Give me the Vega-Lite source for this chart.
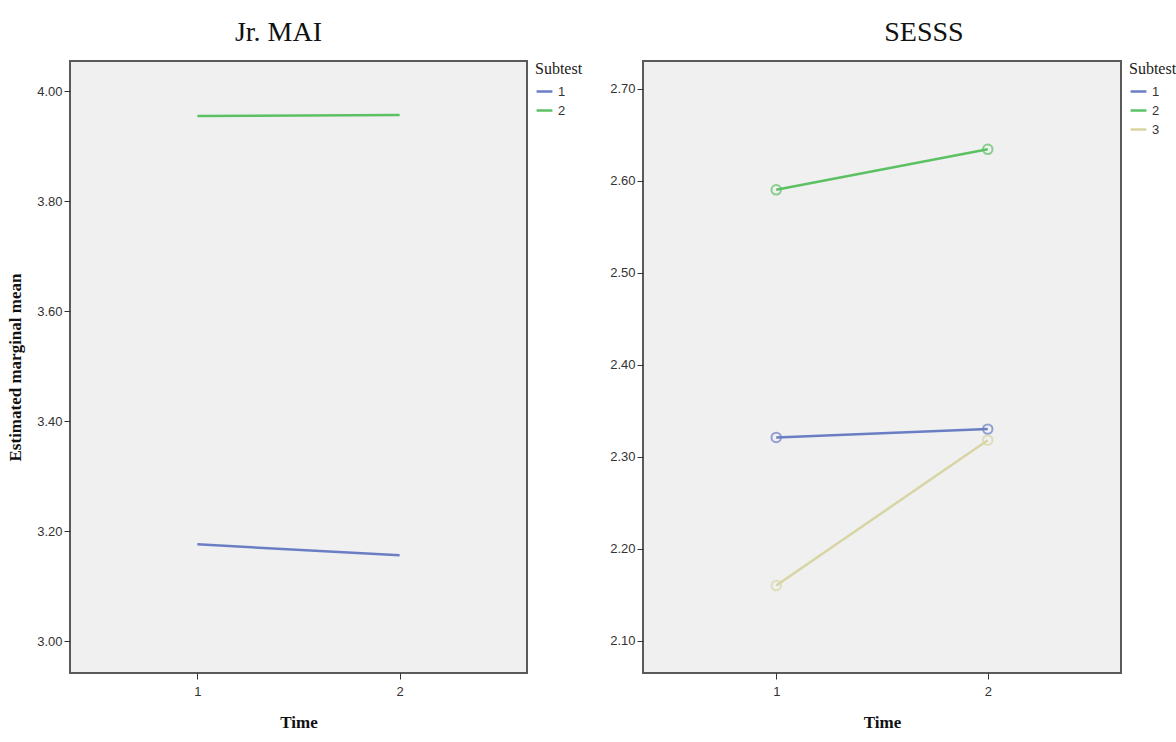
{
  "$schema": "https://vega.github.io/schema/vega-lite/v6.json",
  "background": "white",
  "padding": {"left": 5, "top": 18, "right": 0, "bottom": 0},
  "spacing": 24,
  "config": {
    "view": {"fill": "#f0f0f0", "stroke": "#5a5a5a", "strokeWidth": 2},
    "axis": {
      "labelFont": "Liberation Sans Narrow, Liberation Sans, Arial",
      "labelFontSize": 13,
      "labelColor": "#333333",
      "tickColor": "#333333",
      "tickSize": 6,
      "grid": false,
      "domain": false,
      "titleFont": "Liberation Serif",
      "titleFontSize": 17,
      "titleFontWeight": "bold",
      "titleColor": "#111111"
    },
    "legend": {
      "titleFont": "Liberation Serif",
      "titleFontSize": 16,
      "titleFontWeight": "normal",
      "titleColor": "#222222",
      "labelFont": "Liberation Sans Narrow, Liberation Sans, Arial",
      "labelFontSize": 13,
      "labelColor": "#333333",
      "symbolType": "stroke",
      "symbolSize": 250,
      "symbolStrokeWidth": 2.5,
      "rowPadding": 2,
      "offset": 8,
      "padding": 0
    },
    "title": {
      "font": "Liberation Serif",
      "fontSize": 28,
      "fontWeight": "normal",
      "color": "#111111",
      "offset": 14
    }
  },
  "datasets": {
    "mai": [
      {"Time": 1, "Subtest": "1", "Mean": 3.176},
      {"Time": 2, "Subtest": "1", "Mean": 3.156},
      {"Time": 1, "Subtest": "2", "Mean": 3.955},
      {"Time": 2, "Subtest": "2", "Mean": 3.957}
    ],
    "sesss": [
      {"Time": 1, "Subtest": "1", "Mean": 2.321},
      {"Time": 2, "Subtest": "1", "Mean": 2.330},
      {"Time": 1, "Subtest": "2", "Mean": 2.590},
      {"Time": 2, "Subtest": "2", "Mean": 2.634},
      {"Time": 1, "Subtest": "3", "Mean": 2.160},
      {"Time": 2, "Subtest": "3", "Mean": 2.318}
    ]
  },
  "hconcat": [
    {
      "title": {"text": "Jr. MAI", "dx": -20},
      "width": 457,
      "height": 612,
      "data": {"name": "mai"},
      "layer": [
        {
          "mark": {"type": "line", "strokeWidth": 2.5},
          "encoding": {
            "x": {"field": "Time", "type": "ordinal", "scale": {"type": "point", "padding": 0.63}, "axis": {"labelAngle": 0, "labelPadding": 6, "title": "Time", "titlePadding": 16}},
            "y": {"field": "Mean", "type": "quantitative", "scale": {"domain": [2.942, 4.055], "nice": false, "zero": false}, "axis": {"values": [3.0, 3.2, 3.4, 3.6, 3.8, 4.0], "format": ".2f", "title": "Estimated marginal mean", "titlePadding": 12}},
            "color": {"field": "Subtest", "type": "nominal", "scale": {"domain": ["1", "2"], "range": ["#6b7ec4", "#5cc163"]}, "legend": {"title": "Subtest"}}
          }
        }
      ]
    },
    {
      "title": {"text": "SESSS", "dx": 42},
      "width": 478,
      "height": 612,
      "data": {"name": "sesss"},
      "layer": [
        {
          "mark": {"type": "line", "strokeWidth": 2.5},
          "encoding": {
            "x": {"field": "Time", "type": "ordinal", "scale": {"type": "point", "padding": 0.63}, "axis": {"labelAngle": 0, "labelPadding": 6, "title": "Time", "titlePadding": 16}},
            "y": {"field": "Mean", "type": "quantitative", "scale": {"domain": [2.065, 2.730], "nice": false, "zero": false}, "axis": {"values": [2.1, 2.2, 2.3, 2.4, 2.5, 2.6, 2.7], "format": ".2f", "title": null}},
            "color": {"field": "Subtest", "type": "nominal", "scale": {"domain": ["1", "2", "3"], "range": ["#6b7ec4", "#5cc163", "#d8d5a5"]}, "legend": {"title": "Subtest"}}
          }
        },
        {
          "mark": {"type": "point", "shape": "circle", "filled": false, "size": 90, "strokeWidth": 2},
          "encoding": {
            "x": {"field": "Time", "type": "ordinal"},
            "y": {"field": "Mean", "type": "quantitative"},
            "color": {"field": "Subtest", "type": "nominal", "legend": null}
          }
        }
      ]
    }
  ],
  "resolve": {"scale": {"color": "independent", "y": "independent", "x": "independent"}}
}
